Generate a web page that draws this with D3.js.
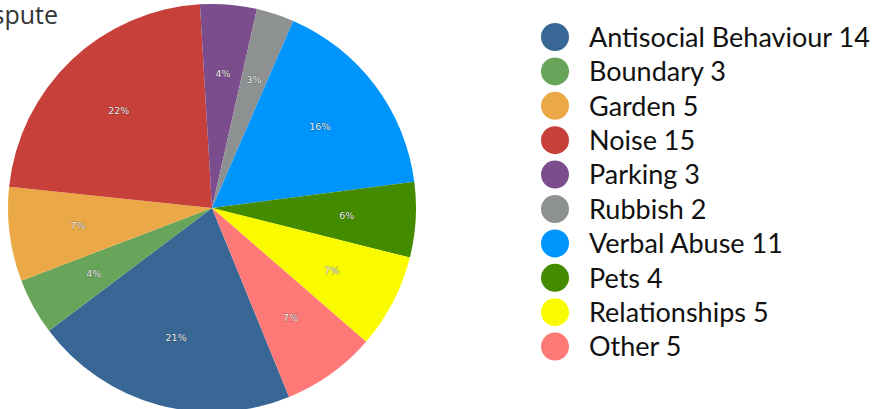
<!DOCTYPE html>
<html>
<head>
<meta charset="utf-8">
<script src="https://cdn.jsdelivr.net/npm/d3@7"></script>
<style>
  body { margin:0; background:#fff; overflow:hidden; }
</style>
</head>
<body>
<svg id="pie"></svg>
<script>
// categories and counts of disputes
var categories = ["Antisocial Behaviour","Boundary","Garden","Noise","Parking","Rubbish","Verbal Abuse","Pets","Relationships","Other"];
var counts = [14,3,5,15,3,2,11,4,5,5];
var colours = ["#386796","#69a45b","#eaa946","#c8403a","#7b4d8c","#8e9191","#0095fd","#448b00","#fbfb00","#fd7978"];

var screen = {width:878, height:409};
var centre = {x:212, y:208};
var radius = 204;

var svg = d3.select("#pie")
    .attr("width",screen.width)
    .attr("height",screen.height);

var total = d3.sum(counts);

//the pie starts a bit right of the bottom and goes clockwise
var start = 157.8*Math.PI/180;
var pie = d3.pie()
    .sort(null)
    .startAngle(start)
    .endAngle(start+2*Math.PI)
    .value(function(d){return d;});

var arc = d3.arc().innerRadius(0).outerRadius(radius);
var labelArc = d3.arc().innerRadius(135).outerRadius(135);

var g = svg.append("g")
    .attr("transform","translate("+centre.x+","+centre.y+")");

var slices = pie(counts);

g.selectAll("path")
    .data(slices)
    .enter()
    .append("path")
    .attr("d",arc)
    .attr("fill",function(d,i){return colours[i];});

//percent labels
g.selectAll("text")
    .data(slices)
    .enter()
    .append("text")
    .attr("transform",function(d){return "translate("+labelArc.centroid(d)+")";})
    .attr("text-anchor","middle")
    .attr("dy","0.35em")
    .style("font-family","'DejaVu Sans'")
    .style("font-size","9.5px")
    .style("fill","#f2f2f2")
    .style("paint-order","stroke")
    .style("stroke","rgba(0,0,0,0.35)")
    .style("stroke-width","1px")
    .text(function(d){return Math.round(d.data/total*100)+"%";});

//title, partly cut off at the left edge like in the original
svg.append("text")
    .attr("x",58)
    .attr("y",24)
    .attr("text-anchor","end")
    .style("font-family","'Open Sans'")
    .style("font-size","25px")
    .style("fill","#333")
    .text("Dispute");

//legend
var legend = svg.append("g")
    .attr("transform","translate(555,37)");

var rows = legend.selectAll("g")
    .data(categories)
    .enter()
    .append("g")
    .attr("transform",function(d,i){return "translate(0,"+(i*34.4)+")";});

rows.append("circle")
    .attr("r",14)
    .attr("fill",function(d,i){return colours[i];});

rows.append("text")
    .attr("x",34)
    .attr("dy","0.36em")
    .style("font-family","Lato")
    .style("font-size","27px")
    .style("fill","#111")
    .text(function(d,i){return d+" "+counts[i];});
</script>
</body>
</html>
